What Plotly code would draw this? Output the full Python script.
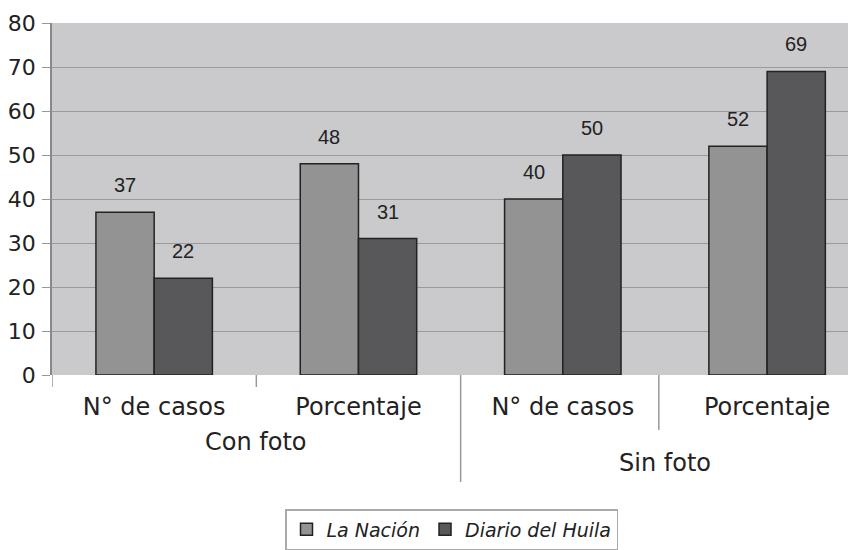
import plotly.graph_objects as go

inner_labels = ["N° de casos", "Porcentaje", "N° de casos", "Porcentaje"]
group_labels = ["Con foto", "Sin foto"]
la_nacion = [37, 48, 40, 52]
diario_huila = [22, 31, 50, 69]
y_ticks = [0, 10, 20, 30, 40, 50, 60, 70, 80]

xpos = list(range(len(inner_labels)))
bar_w = 0.285

# page body has an 8px margin; figure is sized to fit the 856x550 window
W, H = 848, 542
ML, MT, MB = 44, 15, 175
PH = H - MT - MB  # plot height in px

def py(px_below_axis):
    return -px_below_axis / PH

fig = go.Figure()
fig.add_trace(go.Bar(x=xpos, y=la_nacion, name="La Nación",
                     marker=dict(color="#939393", line=dict(color="#222222", width=1.5))))
fig.add_trace(go.Bar(x=xpos, y=diario_huila, name="Diario del Huila",
                     marker=dict(color="#58585a", line=dict(color="#222222", width=1.5))))

ann = []
for i, (a, b) in enumerate(zip(la_nacion, diario_huila)):
    ann.append(dict(x=i - bar_w / 2, y=a, text=str(a), showarrow=False, yshift=27,
                    xref="x", yref="y", font=dict(family="Liberation Sans, Arial", size=20, color="#222")))
    ann.append(dict(x=i + bar_w / 2, y=b, text=str(b), showarrow=False, yshift=27,
                    xref="x", yref="y", font=dict(family="Liberation Sans, Arial", size=20, color="#222")))

ann.append(dict(x=0.5, y=py(67), xref="x", yref="paper", text=group_labels[0],
                showarrow=False, yanchor="middle", font=dict(family="DejaVu Sans", size=24, color="#222")))
ann.append(dict(x=2.5, y=py(88), xref="x", yref="paper", text=group_labels[1],
                showarrow=False, yanchor="middle", font=dict(family="DejaVu Sans", size=24, color="#222")))

shapes = [
    dict(type="line", xref="x", yref="paper", x0=-0.5, x1=-0.5, y0=0, y1=py(12),
         line=dict(color="#999", width=1.5)),
    dict(type="line", xref="x", yref="paper", x0=0.5, x1=0.5, y0=0, y1=py(12),
         line=dict(color="#999", width=1.5)),
    dict(type="line", xref="x", yref="paper", x0=1.5, x1=1.5, y0=0, y1=py(107),
         line=dict(color="#999", width=1.5)),
    dict(type="line", xref="x", yref="paper", x0=2.47, x1=2.47, y0=0, y1=py(55),
         line=dict(color="#999", width=1.5)),
]

fig.update_layout(
    width=W, height=H,
    margin=dict(l=ML, r=0, t=MT, b=MB),
    paper_bgcolor="white",
    plot_bgcolor="#cacacc",
    barmode="group",
    bargap=0.43,
    bargroupgap=0,
    showlegend=True,
    legend=dict(orientation="h", x=(285 - 8 - ML) / (W - ML), xanchor="left", y=py(134), yanchor="top",
                bordercolor="#aaaaaa", borderwidth=1.5, bgcolor="white",
                font=dict(family="DejaVu Sans", size=19, color="#222", style="italic"),
                itemwidth=30),
    annotations=ann,
    shapes=shapes,
    xaxis=dict(range=[-0.5, 3.435], tickvals=xpos, ticktext=inner_labels, ticks="",
               showgrid=False, zeroline=False, showline=False, automargin=False,
               ticklabelstandoff=15,
               tickfont=dict(family="DejaVu Sans", size=24, color="#222")),
    yaxis=dict(range=[0, 80], tickvals=y_ticks, ticks="outside", ticklen=8, tickcolor="#999",
               showgrid=True, gridcolor="#9a9a9a", gridwidth=1, zeroline=False,
               showline=True, linecolor="#888", linewidth=1.5, automargin=False,
               ticklabelstandoff=2,
               tickfont=dict(family="DejaVu Sans", size=22, color="#222")),
)

fig.write_html("out.html")
